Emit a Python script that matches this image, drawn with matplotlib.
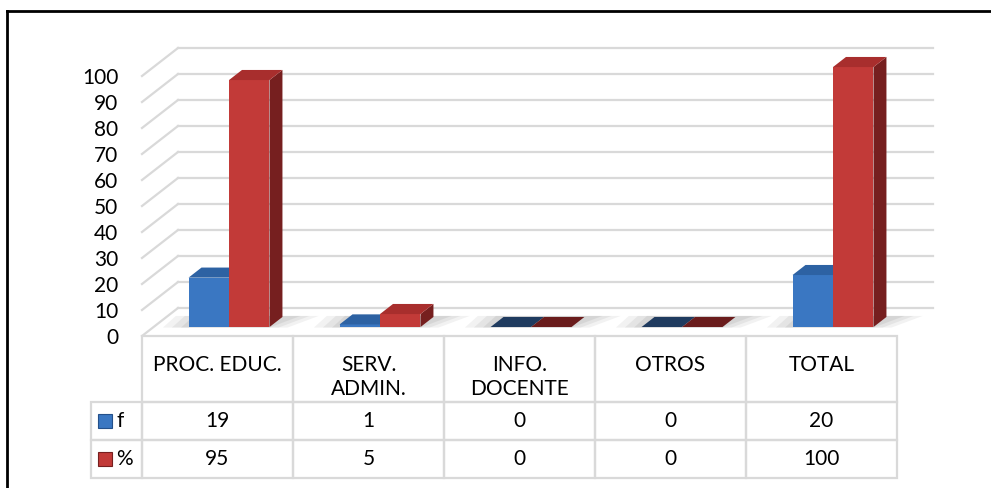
import numpy as np
import matplotlib
matplotlib.use('Agg')
import matplotlib.pyplot as plt
from matplotlib.patches import Polygon
from matplotlib.lines import Line2D

plt.rcParams['font.family'] = ['Lato', 'DejaVu Sans']

categories = ['PROC. EDUC.', 'SERV.\nADMIN.', 'INFO.\nDOCENTE', 'OTROS', 'TOTAL']
f_vals = [19, 1, 0, 0, 20]
pct_vals = [95, 5, 0, 0, 100]
series_names = ['f', '%']
yticks = list(range(0, 101, 10))

# colours (front, top, side, flat top for zero values)
blue = ['#3a77c2', '#2d62a3', '#24508a', '#1f3b5f']
red = ['#c23a38', '#a82e2d', '#761f1f', '#6a1c1c']

W, H = 991, 488
fig = plt.figure(figsize=(W / 100, H / 100), dpi=100)

# front plane of the 3D box in pixels
x0, x1 = 142, 897
y0, ppu = 336, 2.6          # baseline and pixels per unit
ax = fig.add_axes([x0 / W, (H - y0) / H, (x1 - x0) / W, 100 * ppu / H])
ax.set_xlim(-0.5, 4.5)
ax.set_ylim(0, 100)
for s in ax.spines.values():
    s.set_visible(False)
ax.set_xticks(range(len(categories)))
ax.set_xticklabels(categories, fontsize=15, linespacing=1.27)
ax.set_yticks(yticks)
ax.set_yticklabels([str(v) for v in yticks], fontsize=15)
ax.tick_params(axis='y', length=0, pad=17)
ax.tick_params(axis='x', length=0, pad=13.5)

DX = 36 / 151.0            # depth offset in category units
DY = 28 / ppu              # depth offset in value units
grid_c = '#d9d9d9'

# back wall + left wall gridlines
for v in yticks:
    ax.plot([-0.5 + DX, 4.5 + DX], [v + DY, v + DY], color=grid_c, lw=1.6,
            clip_on=False, zorder=1)
    ax.plot([-0.5, -0.5 + DX], [v, v + DY], color=grid_c, lw=1.6,
            clip_on=False, zorder=1)

bw = 0.268
s0, d = 0.32, 0.36
for i in range(len(categories)):
    for j, (vals, col) in enumerate([(f_vals, blue), (pct_vals, red)]):
        v = vals[i]
        xl = i - bw + j * bw + s0 * DX
        xr = xl + bw
        yb = s0 * DY
        yt = yb + v
        ddx, ddy = d * DX, d * DY
        z = 3 + i * 2 + j
        if j == 0:
            # soft floor shadow under the pair
            for k, a in enumerate([0.10, 0.12, 0.14]):
                g = 0.06 * (2 - k)
                sh = Polygon([(xl - 0.05 - g, yb - 0.2), (xl + 2 * bw + g, yb - 0.2),
                              (xl + 2 * bw + ddx + 0.12 + g, yb + ddy + 0.4),
                              (xl + ddx - 0.05 - g, yb + ddy + 0.4)],
                             closed=True, fc='#808080', ec='none', alpha=a,
                             clip_on=False, zorder=2)
                ax.add_patch(sh)
        top_c = col[1] if v > 0 else col[3]
        if v > 0:
            ax.bar(xl, v, width=bw, bottom=yb, align='edge', color=col[0],
                   edgecolor='none', clip_on=False, zorder=z)
            side = Polygon([(xr, yb), (xr + ddx, yb + ddy), (xr + ddx, yt + ddy), (xr, yt)],
                           closed=True, fc=col[2], ec='none', clip_on=False, zorder=z)
            ax.add_patch(side)
        top = Polygon([(xl, yt), (xr, yt), (xr + ddx, yt + ddy), (xl + ddx, yt + ddy)],
                      closed=True, fc=top_c, ec='none', clip_on=False, zorder=z)
        ax.add_patch(top)

# data table (header labels come from the x tick labels)
cell_text = [[series_names[0]] + [str(v) for v in f_vals],
             [series_names[1]] + [str(v) for v in pct_vals]]
col_labels = [''] * (len(categories) + 1)
tx0 = 91
tbl_h = 478 - y0
tb = ax.table(cellText=cell_text, colLabels=col_labels, cellLoc='center',
              colWidths=[51] + [151] * 5,
              bbox=[(tx0 - x0) / (x1 - x0), -tbl_h / (100 * ppu),
                    (x1 - tx0) / (x1 - x0), tbl_h / (100 * ppu)])
tb.auto_set_font_size(False)
tb.set_fontsize(15)
tb.set_zorder(0)
for (r, c), cell in tb.get_celld().items():
    cell.set_edgecolor(grid_c)
    cell.set_linewidth(1.6)
    cell.set_facecolor('none')
    cell.set_height(66 if r == 0 else 38)
    if r == 0 and c == 0:
        cell.visible_edges = ''
    if c == 0 and r > 0:
        cell._loc = 'left'
        cell.PAD = 0.5
        cell.get_text().set_ha('left')

# legend keys inside table
for k, col in enumerate([blue, red]):
    ax.plot([(105 - x0) / (x1 - x0)], [-(421 + 38 * k - y0) / (100 * ppu)],
            marker='s', ms=9.5, color=col[0], mec=col[2], mew=0.8,
            transform=ax.transAxes, clip_on=False, zorder=10)

# outer border (top and left only are in view)
fig.add_artist(Line2D([7 / W, 7 / W], [0, 1 - 11 / H], color='black', lw=2,
                      transform=fig.transFigure))
fig.add_artist(Line2D([7 / W, 1], [1 - 11 / H, 1 - 11 / H], color='black', lw=2,
                      transform=fig.transFigure))

fig.savefig('out.png', dpi=100)
